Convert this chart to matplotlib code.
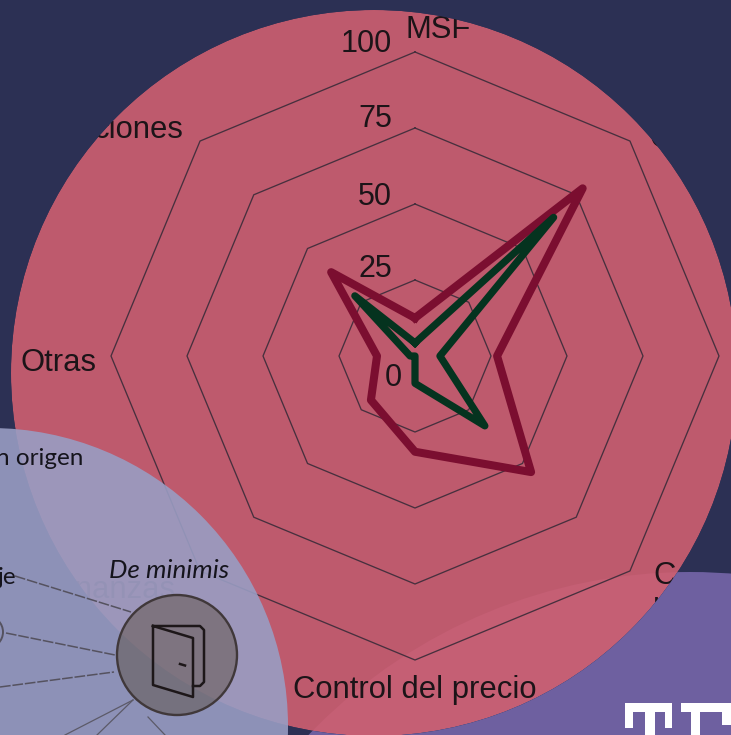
import numpy as np
import matplotlib
matplotlib.use("Agg")
import matplotlib.pyplot as plt
from matplotlib.patches import Circle, Rectangle, PathPatch
from matplotlib.path import Path

# values clockwise from the top axis
categorias = ["MSF", "C", "", "C\nl", "Control del precio", "finanzas", "Otras", "ciones"]
serie_roja = [12.5, 78, 27, 54, 31.5, 20.5, 12.5, 39]
serie_verde = [4.3, 64.5, 8.2, 32.5, 9, 0, 1.6, 28]
anillos = [25, 50, 75, 100]
etiquetas_radio = ["0", "25", "50", "75", "100"]
valores_radio = [0, 25, 50, 75, 100]

# label placement, pixels away from the outer ring vertex
offset_cat = [(23, 22), (19, 2), (0, 0), (23, -23), (0, -30), (-25, -19), (-15, -7), (-17, 11)]
ha_cat = ["center", "left", "left", "left", "center", "right", "right", "right"]
offset_radio = [(-22, -22), (-23, 11), (-23, 7), (-23, 9), (-23, 8)]

W, H = 731, 735
cx, cy, R = 415, 356, 304
rosa_c, rosa_r = (374, 373), 363
morado_c, morado_r = (690, 1100), 528
fuente = "Liberation Sans"
navy = "#2c3054"
morado = "#6e60a0"

fig = plt.figure(figsize=(W / 100, H / 100), dpi=100)
fig.patch.set_facecolor(navy)


def ejes_pixel(z):
    a = fig.add_axes([0, 0, 1, 1], zorder=z)
    a.set_xlim(0, W)
    a.set_ylim(H, 0)
    a.axis("off")
    return a


fondo = ejes_pixel(0)
fondo.add_patch(Circle(morado_c, morado_r, fc=morado, ec="none"))
fondo.add_patch(Circle(rosa_c, rosa_r, fc="#cf5f70", ec="none", alpha=0.9))

ax = fig.add_axes([(cx - R) / W, (H - cy - R) / H, 2 * R / W, 2 * R / H], projection="polar", zorder=1)
ax.set_theta_offset(np.pi / 2)
ax.set_theta_direction(-1)
ax.set_ylim(0, 100)
ax.axis("off")

theta = np.arange(len(categorias)) * 2 * np.pi / len(categorias)
theta_c = np.append(theta, theta[0])

for r in anillos:
    ax.plot(theta_c, [r] * len(theta_c), color="#47303e", lw=0.95, clip_on=False)

ax.plot(theta_c, serie_roja + serie_roja[:1], color="#7b0e30", lw=5.8, solid_joinstyle="round", clip_on=False)
ax.plot(theta_c, serie_verde + serie_verde[:1], color="#05331f", lw=5.2, solid_joinstyle="round", clip_on=False)

for val, txt, off in zip(valores_radio, etiquetas_radio, offset_radio):
    ax.annotate(txt, (0, val), xytext=off, textcoords="offset pixels", ha="right" if val else "center",
                va="center", fontsize=22, family=fuente, color="#1c1418", annotation_clip=False)

for t, txt, off, ha in zip(theta, categorias, offset_cat, ha_cat):
    if txt == "":
        continue
    ax.annotate(txt, (t, 100), xytext=off, textcoords="offset pixels", ha=ha, va="center", fontsize=22.3,
                family=fuente, color="#1c1418", annotation_clip=False, linespacing=1.25,
                alpha=0.5 if txt == "finanzas" else 1)

# agg does not clip text to a path, so the area outside the big circle is painted again on top
mascara = ejes_pixel(1.5)
borde = Path([(-5, -5), (-5, H + 5), (W + 5, H + 5), (W + 5, -5), (-5, -5)], closed=True)
agujero = Path.circle(rosa_c, rosa_r)
hueco = PathPatch(Path.make_compound_path(borde, agujero), fc=navy, ec="none")
mascara.add_patch(hueco)
resto = Circle(morado_c, morado_r, fc=morado, ec="none")
mascara.add_patch(resto)
resto.set_clip_path(hueco)

# the pale circle in the corner, on top of the chart
tapa = ejes_pixel(2)
tapa.add_patch(Circle((-10, 726), 298, fc="#999dc3", ec="none", alpha=0.9))

enlaces = [((15, 576), (131, 612)), ((6, 633), (115, 655)), ((0, 687), (114, 672))]
for a, b in enlaces:
    tapa.plot([a[0], b[0]], [a[1], b[1]], color="#55525f", lw=1.1, ls=(0, (7, 1.2)))
for a, b in [((133, 700), (65, 735)), ((133, 700), (97, 735)), ((148, 717), (165, 735))]:
    tapa.plot([a[0], b[0]], [a[1], b[1]], color="#5c5a68", lw=0.9)

tapa.add_patch(Circle((177, 655), 60, fc="#564530", ec="none", alpha=0.42))
tapa.add_patch(Circle((177, 655), 60, fc="none", ec="#40383a", lw=1.7))
tapa.add_patch(Circle((-13, 632), 16, fc="none", ec="#55525f", lw=1.4))

tapa.plot([153, 193, 193, 153, 153], [626, 638, 697, 685, 626], color="#1d1719", lw=1.8, solid_joinstyle="round")
tapa.plot([153, 200, 204, 204, 200, 193], [626, 626, 630, 682, 686, 686], color="#1d1719", lw=1.8,
          solid_joinstyle="round")
tapa.plot([180, 185], [664, 665.5], color="#1d1719", lw=1.8)

tapa.text(83, 458, "n origen", ha="right", va="center", fontsize=17.5, family="Lato", color="#15141c")
tapa.text(16, 578, "je", ha="right", va="center", fontsize=17.5, family="Lato", color="#15141c")
tapa.text(169, 571, "De minimis", ha="center", va="center", fontsize=18.7, family="Lato", style="italic",
          color="#15141c")

# logo, cut off by the corner
for x, y, w, h in [(625, 703, 47, 9), (625, 703, 8, 25), (645, 703, 10, 32), (665, 703, 7, 25),
                   (681, 703, 50, 9), (691, 703, 9, 32), (722, 703, 9, 22)]:
    tapa.add_patch(Rectangle((x, y), w, h, fc="white", ec="none"))

fig.savefig("out.png", dpi=100, facecolor=fig.get_facecolor())
